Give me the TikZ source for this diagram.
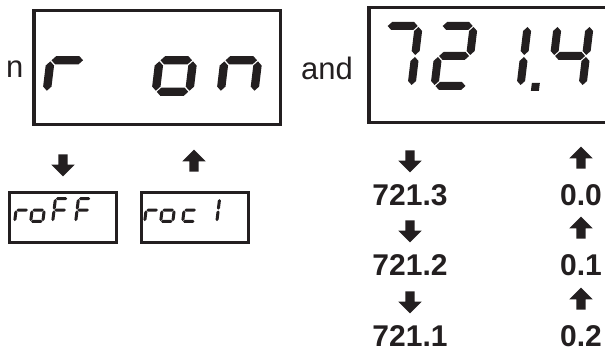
\documentclass[tikz,border=0pt]{standalone}
\usepackage{fontspec}
\setmainfont{Liberation Sans}
\usepackage{tikz}
\usetikzlibrary{shapes.arrows}

\definecolor{ink}{HTML}{231F20}

% one segment of a seven segment digit (digit is 40 x 68, bars 8 thick)
\newcommand\hseg[3]{\fill[ink] (#1,#3) -- (#1+4,#3+4) -- (#2-4,#3+4) -- (#2,#3) -- (#2-4,#3-4) -- (#1+4,#3-4) -- cycle;}
\newcommand\vseg[3]{\fill[ink] (#1,#2) -- (#1+4,#2+4) -- (#1+4,#3-4) -- (#1,#3) -- (#1-4,#3-4) -- (#1-4,#2+4) -- cycle;}
\def\sega{\hseg{5}{35}{64}}
\def\segb{\vseg{36}{35}{63}}
\def\segc{\vseg{36}{5}{33}}
\def\segd{\hseg{5}{35}{4}}
\def\sege{\vseg{4}{5}{33}}
\def\segf{\vseg{4}{35}{63}}
\def\segg{\hseg{5}{35}{34}}
\def\segp{\fill[ink] (47,-1) rectangle (55,7);}
% x, y of lower left corner, scale, list of segments
\newcommand\digit[4]{%
  \begin{scope}[shift={(#1,#2)}, scale=#3, xslant=0.12]
    \foreach \s in {#4} {\csname seg\s\endcsname}
  \end{scope}}

\begin{document}
\begin{tikzpicture}[x=1pt, y=1pt,
    word/.style={font=\fontsize{31}{36}\selectfont, text=ink, inner sep=0pt},
    val/.style={font=\fontsize{30}{36}\selectfont\bfseries, text=ink, inner sep=0pt},
    blockarrow/.style={single arrow, fill=ink, single arrow head extend=7pt,
        single arrow head indent=0pt, inner sep=4.5pt, minimum height=22pt},
    downarrow/.style={blockarrow, rotate=-90},
    uparrow/.style={blockarrow, rotate=90}]
    \clip (0,0) rectangle (605,353);

    % big displays
    \draw[line width=3.5pt, ink] (34,342.5) rectangle (280.5,228.5);
    \draw[line width=3.5pt, ink] (369,345.5) rectangle (640,230.5);
    \node[word, anchor=base west] (pre) at (6,275) {n};
    \node[word, anchor=base west] (and) at (301,273) {and};

    % r  on
    \digit{42}{257}{1.05}{e,g}
    \digit{151}{257}{1.05}{c,d,e,g}
    \digit{216}{257}{1.05}{c,e,g}

    % 721.4
    \digit{375}{263}{1}{a,b,c}
    \digit{430}{263}{1}{a,b,g,e,d}
    \digit{484}{263}{1}{b,c,p}
    \digit{546}{263}{1}{f,g,b,c}

    % small displays
    \draw[line width=3pt, ink] (9,160.5) rectangle (116.5,110);
    \draw[line width=3pt, ink] (141,160.5) rectangle (248.5,110);
    \digit{13}{130}{0.38}{e,g}
    \digit{29}{130}{0.38}{c,d,e,g}
    \digit{51}{130}{0.38}{a,e,f,g}
    \digit{74}{130}{0.38}{a,e,f,g}
    \digit{143}{130}{0.38}{e,g}
    \digit{159}{130}{0.38}{c,d,e,g}
    \digit{181}{130}{0.38}{d,e,g}
    \digit{203}{130}{0.38}{b,c}

    \node[downarrow] (left dn) at (63,190) {};
    \node[uparrow] (left up) at (194,190) {};

    % the values
    \foreach \i/\a/\b/\y in {1/721.3/0.0/147, 2/721.2/0.1/77, 3/721.1/0.2/6} {
        \node[downarrow] (dn\i) at (410,\y+47) {};
        \node[uparrow] (up\i) at (581,\y+46) {};
        \node[val, anchor=base] (lo\i) at (410,\y) {\a};
        \node[val, anchor=base] (hi\i) at (581,\y) {\b};
    }
\end{tikzpicture}
\end{document}
